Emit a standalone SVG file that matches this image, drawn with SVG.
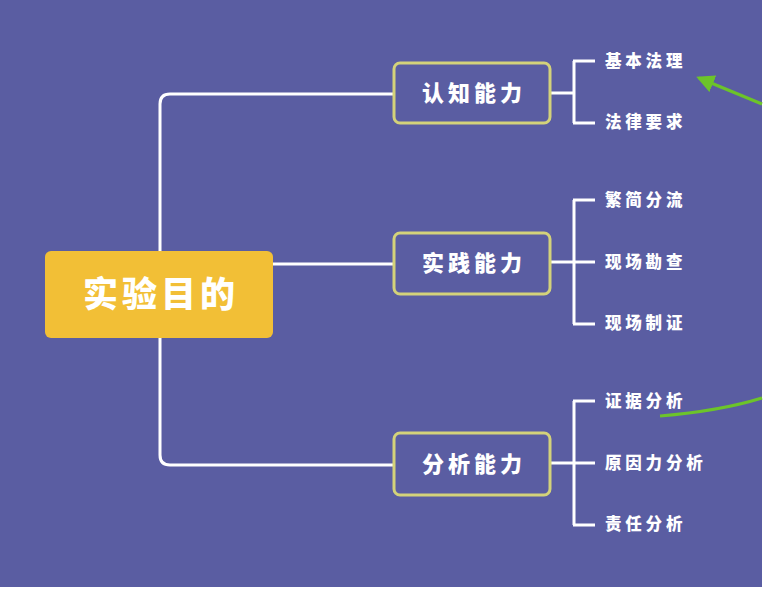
<svg xmlns="http://www.w3.org/2000/svg" width="767" height="590" viewBox="0 0 767 590">
<defs>
<style>
.bg{fill:#5a5da2}
.conn{fill:none;stroke:#ffffff;stroke-width:3}
.box{fill:#5a5da2;stroke:#d3d27a;stroke-width:3}
.t{font-family:"Noto Sans CJK SC","Noto Sans",sans-serif;font-weight:900;fill:#ffffff}
.main{font-size:35px;letter-spacing:4px}
.br{font-size:22px;letter-spacing:4px}
.leaf{font-size:16.5px;letter-spacing:3.8px}
.green{fill:none;stroke:#6cc42a;stroke-width:3}
</style>
<marker id="ah" markerWidth="7" markerHeight="6" refX="5" refY="3" orient="auto" markerUnits="strokeWidth">
<path d="M0,0 L6,3 L0,6 Z" fill="#6cc42a"/>
</marker>
</defs>
<rect x="0" y="0" width="767" height="590" fill="#ffffff"/>
<rect class="bg" x="0" y="0" width="762" height="587"/>
<g id="connectors">
<path class="conn" d="M393,94 H170 Q160,94 160,104 V455 Q160,465 170,465 H393"/>
<path class="conn" d="M273,264 H393"/>
<path class="conn" d="M551,93 H574 M574,61 V123 M573,61 H595 M573,123 H595"/>
<path class="conn" d="M551,262 H595 M574,200 V324 M573,200 H595 M573,324 H595"/>
<path class="conn" d="M551,463 H595 M574,401 V525 M573,401 H595 M573,525 H595"/>
</g>
<g id="root">
<rect x="45" y="251" width="228" height="87" rx="6" fill="#f2bf36"/>
<text class="t main" x="161" y="307" text-anchor="middle">实验目的</text>
</g>
<g id="n1">
<rect class="box" x="394" y="63" width="156" height="60" rx="6"/>
<text class="t br" x="474" y="101" text-anchor="middle">认知能力</text>
</g>
<g id="n2">
<rect class="box" x="394" y="233" width="156" height="61" rx="6"/>
<text class="t br" x="474" y="271" text-anchor="middle">实践能力</text>
</g>
<g id="n3">
<rect class="box" x="394" y="433" width="156" height="62" rx="6"/>
<text class="t br" x="474" y="472" text-anchor="middle">分析能力</text>
</g>
<g id="leaves">
<g id="l1"><text class="t leaf" x="605" y="67">基本法理</text></g>
<g id="l2"><text class="t leaf" x="605" y="128">法律要求</text></g>
<g id="l3"><text class="t leaf" x="605" y="206">繁简分流</text></g>
<g id="l4"><text class="t leaf" x="605" y="268">现场勘查</text></g>
<g id="l5"><text class="t leaf" x="605" y="329">现场制证</text></g>
<g id="l6"><text class="t leaf" x="605" y="407">证据分析</text></g>
<g id="l7"><text class="t leaf" x="605" y="469">原因力分析</text></g>
<g id="l8"><text class="t leaf" x="605" y="530">责任分析</text></g>
</g>
<g id="annotations">
<path class="green" d="M762,104 L699,78" marker-end="url(#ah)"/>
<path class="green" d="M660,416 Q720,411 762,398"/>
</g>
</svg>
